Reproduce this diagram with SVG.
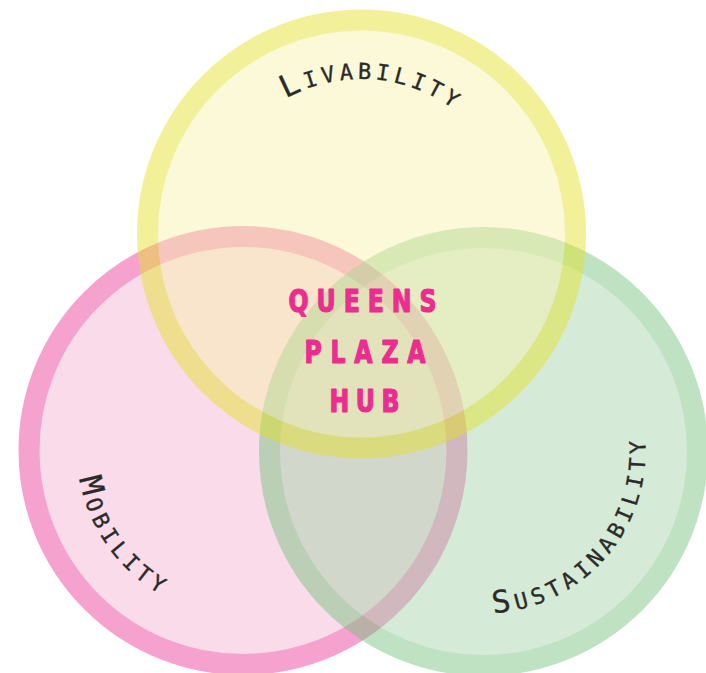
<svg xmlns="http://www.w3.org/2000/svg" width="706" height="673" viewBox="0 0 706 673">
  <style>
    .ring { stroke-width: 21; opacity: 0.45; }
    .label { font-family: "DejaVu Sans Mono", "Liberation Mono", monospace; font-size: 31px; font-variant: small-caps; fill: #2b2a29; stroke: #2b2a29; stroke-width: 0.35; }
    .hub { font-family: "DejaVu Sans Condensed", "DejaVu Sans", sans-serif; font-stretch: condensed; font-weight: bold; font-size: 32px; fill: #ec2d8f; stroke: #ec2d8f; stroke-width: 1.2; stroke-linejoin: round; }
  </style>
  <defs>
    <!-- baselines for the curved circle labels -->
    <path id="arc-livability" d="M 206.5,234 A 155 155 0 0 1 516.5,234"/>
    <path id="arc-mobility" d="M 77,450.5 A 166 166 0 0 0 409,450.5"/>
    <path id="arc-sustainability" d="M 321.5,451.5 A 162 162 0 1 0 483.5,289.5"/>
  </defs>

  <g id="mobility">
    <circle class="ring" cx="243" cy="450.5" r="214" fill="#f2b1d0" stroke="#e93397"/>
  </g>
  <g id="sustainability">
    <circle class="ring" cx="483.5" cy="451.5" r="214" fill="#a4d3ab" stroke="#71c17a"/>
  </g>
  <g id="livability">
    <circle class="ring" cx="361.5" cy="234" r="214" fill="#f8f2a8" stroke="#e4e221"/>
  </g>

  <g id="labels">
    <text class="label" letter-spacing="4.3"><textPath href="#arc-livability" startOffset="164.1">Livability</textPath></text>
    <text class="label" letter-spacing="4.8"><textPath href="#arc-mobility" startOffset="28.1">Mobility</textPath></text>
    <text class="label" letter-spacing="5"><textPath href="#arc-sustainability" startOffset="264.2">Sustainability</textPath></text>
  </g>

  <!-- centre title, narrowed horizontally -->
  <g id="hub">
    <text class="hub" transform="translate(288.5,312) scale(0.82,1)" textLength="180.5" lengthAdjust="spacing">QUEENS</text>
    <text class="hub" transform="translate(304.5,363) scale(0.82,1)" textLength="147.6" lengthAdjust="spacing">PLAZA</text>
    <text class="hub" transform="translate(329.5,412) scale(0.82,1)" textLength="85.4" lengthAdjust="spacing">HUB</text>
  </g>
</svg>
